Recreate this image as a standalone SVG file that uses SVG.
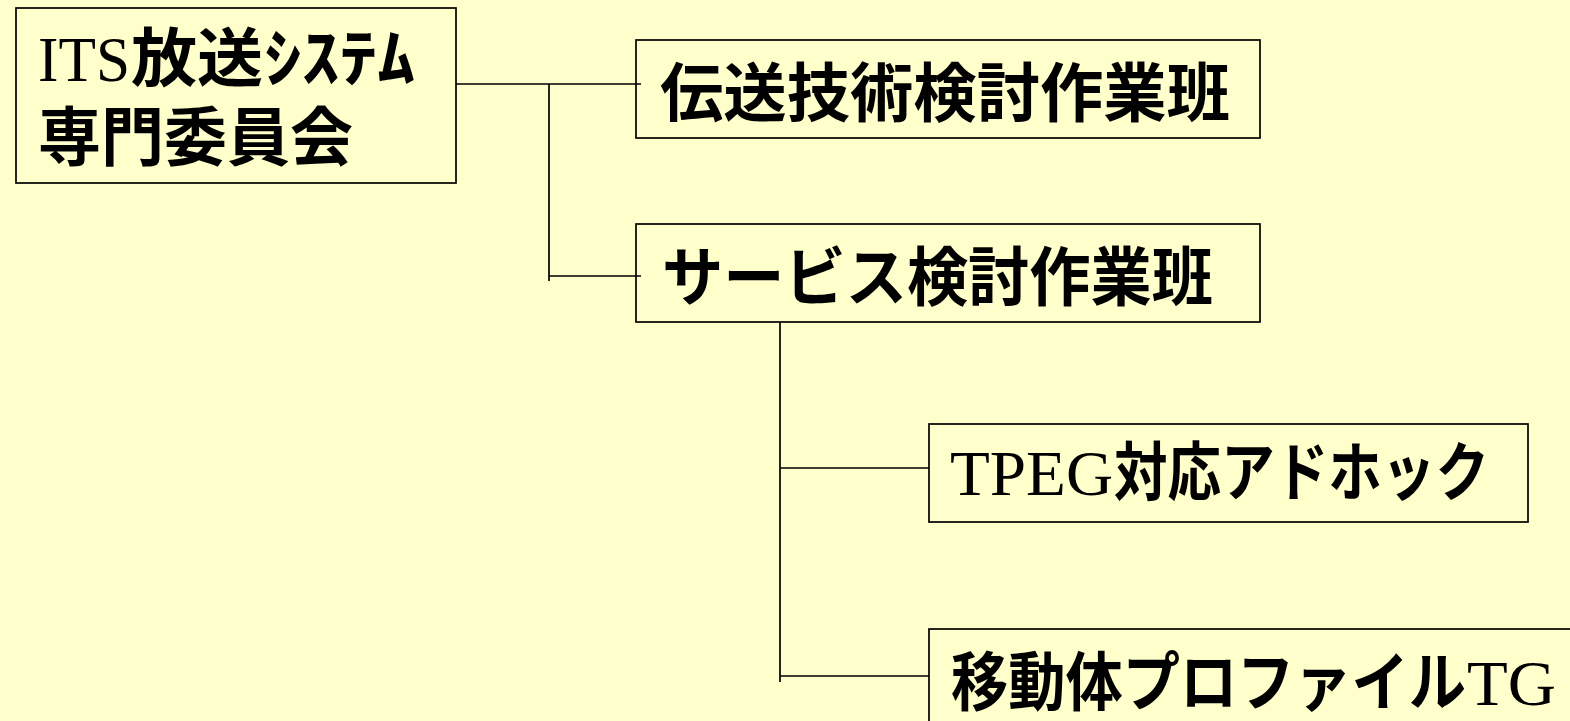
<svg xmlns="http://www.w3.org/2000/svg" width="1570" height="721" viewBox="0 0 1570 721">
<style>
.box{fill:none;stroke:#000;stroke-width:1.7}
.ln{stroke:#000;stroke-width:1.7;fill:none}
.t{font-size:64px;fill:#000}
.lat{font-family:"Liberation Serif","Times New Roman",serif}
.cjk{font-family:"Noto Sans CJK JP","Noto Sans CJK SC",sans-serif;font-weight:700}
</style>
<rect x="0" y="0" width="1570" height="721" fill="#FFFFCC"/>
<g id="connectors">
<path class="ln" d="M456,84H641M549,84V281M549,276H641"/>
<path class="ln" d="M780,322V682M780,468H929M780,676H929"/>
</g>
<g id="n1">
<rect class="box" x="16" y="8" width="440" height="175"/>
<text class="t" y="81"><tspan class="lat" x="38" textLength="92" lengthAdjust="spacingAndGlyphs">ITS</tspan><tspan class="cjk" x="131" textLength="132" lengthAdjust="spacingAndGlyphs">放送</tspan><tspan class="cjk" x="264" textLength="151" lengthAdjust="spacingAndGlyphs">ｼｽﾃﾑ</tspan></text>
<text class="t cjk" x="38" y="160" font-size="62" textLength="315" lengthAdjust="spacingAndGlyphs">専門委員会</text>
</g>
<g id="n2">
<rect class="box" x="636" y="40" width="624" height="98"/>
<text class="t cjk" x="660" y="116" textLength="570" lengthAdjust="spacingAndGlyphs">伝送技術検討作業班</text>
</g>
<g id="n3">
<rect class="box" x="636" y="224" width="624" height="98"/>
<text class="t cjk" x="662" y="300" textLength="551" lengthAdjust="spacingAndGlyphs">サービス検討作業班</text>
</g>
<g id="n4">
<rect class="box" x="929" y="424" width="599" height="98"/>
<text class="t" y="495"><tspan class="lat" x="950" textLength="163" lengthAdjust="spacingAndGlyphs">TPEG</tspan><tspan class="cjk" x="1114" textLength="375" lengthAdjust="spacingAndGlyphs">対応アドホック</tspan></text>
</g>
<g id="n5">
<rect class="box" x="929" y="629" width="660" height="110"/>
<text class="t" y="705"><tspan class="cjk" x="951" textLength="515" lengthAdjust="spacingAndGlyphs">移動体プロファイル</tspan><tspan class="lat" x="1467" textLength="89" lengthAdjust="spacingAndGlyphs">TG</tspan></text>
</g>
</svg>
